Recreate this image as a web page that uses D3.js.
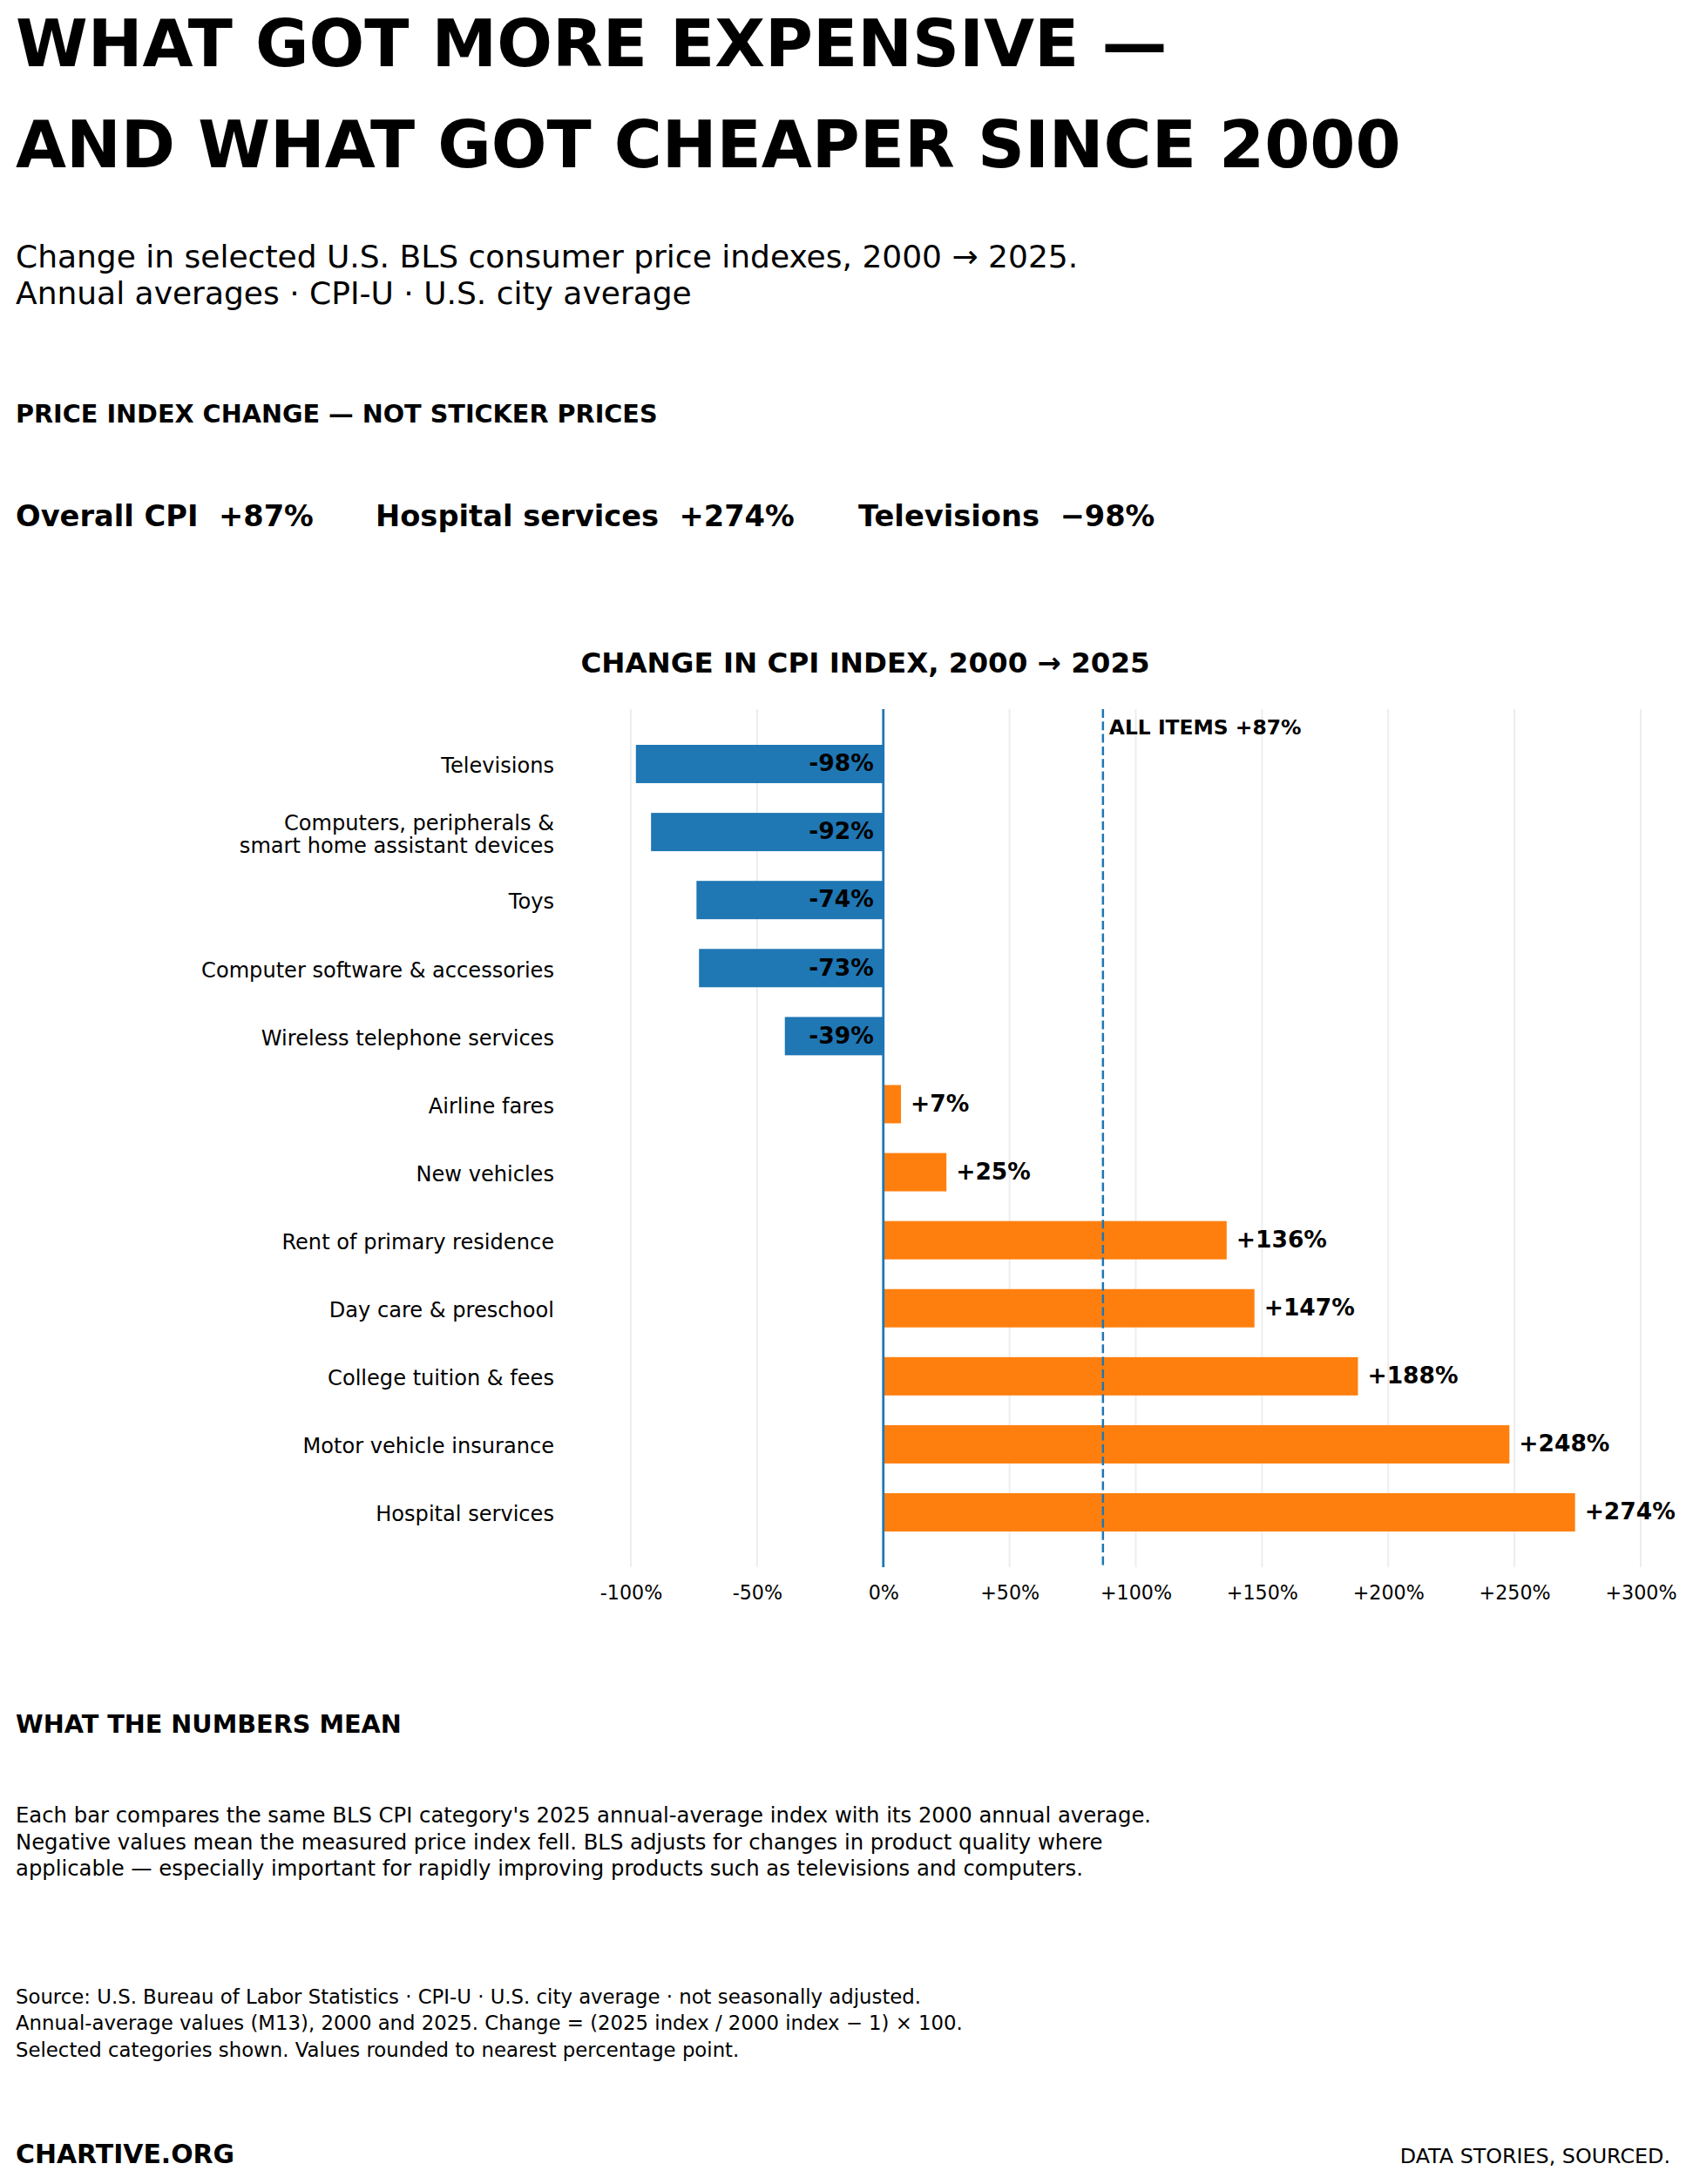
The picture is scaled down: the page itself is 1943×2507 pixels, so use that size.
<!DOCTYPE html>
<html>
<head>
<meta charset="utf-8">
<script src="https://cdn.jsdelivr.net/npm/d3@7"></script>
<style>
  html, body { margin: 0; padding: 0; background: #ffffff; }
  svg { display: block; font-family: "DejaVu Sans", sans-serif; }
  text { white-space: pre; }
</style>
</head>
<body>
<svg id="chart" width="1943" height="2507"></svg>
<script>
// ---------- data ----------
const categories = [
  "Televisions",
  "Computers, peripherals &\nsmart home assistant devices",
  "Toys",
  "Computer software & accessories",
  "Wireless telephone services",
  "Airline fares",
  "New vehicles",
  "Rent of primary residence",
  "Day care & preschool",
  "College tuition & fees",
  "Motor vehicle insurance",
  "Hospital services"
];
const changes = [-98, -92, -74, -73, -39, 7, 25, 136, 147, 188, 248, 274];
const xTicks = [-100, -50, 0, 50, 100, 150, 200, 250, 300];
const xTickLabels = ["-100%", "-50%", "0%", "+50%", "+100%", "+150%", "+200%", "+250%", "+300%"];
const allItemsChange = 87;
const allItemsLabel = "ALL ITEMS +87%";
const highlightLabels = ["Overall CPI", "Hospital services", "Televisions"];
const highlightValues = ["+87%", "+274%", "\u221298%"];
const titleLines = ["WHAT GOT MORE EXPENSIVE \u2014", "AND WHAT GOT CHEAPER SINCE 2000"];
const subtitleLines = [
  "Change in selected U.S. BLS consumer price indexes, 2000 \u2192 2025.",
  "Annual averages \u00b7 CPI-U \u00b7 U.S. city average"
];
const kicker = "PRICE INDEX CHANGE \u2014 NOT STICKER PRICES";
const chartTitle = "CHANGE IN CPI INDEX, 2000 \u2192 2025";
const notesHeading = "WHAT THE NUMBERS MEAN";
const notesLines = [
  "Each bar compares the same BLS CPI category's 2025 annual-average index with its 2000 annual average.",
  "Negative values mean the measured price index fell. BLS adjusts for changes in product quality where",
  "applicable \u2014 especially important for rapidly improving products such as televisions and computers."
];
const sourceLines = [
  "Source: U.S. Bureau of Labor Statistics \u00b7 CPI-U \u00b7 U.S. city average \u00b7 not seasonally adjusted.",
  "Annual-average values (M13), 2000 and 2025. Change = (2025 index / 2000 index \u2212 1) \u00d7 100.",
  "Selected categories shown. Values rounded to nearest percentage point."
];
const footerLeft = "CHARTIVE.ORG";
const footerRight = "DATA STORIES, SOURCED.";

// ---------- styles ----------
const BLUE = "#1f77b4", ORANGE = "#ff7f0e", INK = "#000000", GRID = "#ededed";
const svg = d3.select("#chart");
const LEFT = 18;

// ---------- header ----------
svg.selectAll("text.title").data(titleLines).join("text")
  .attr("class", "title")
  .attr("x", LEFT).attr("y", (d, i) => 75.5 + i * 116)
  .attr("font-size", 75).attr("font-weight", "bold").attr("fill", INK)
  .text(d => d);

svg.selectAll("text.subtitle").data(subtitleLines).join("text")
  .attr("class", "subtitle")
  .attr("x", LEFT).attr("y", (d, i) => 306.7 + i * 42.6)
  .attr("font-size", 36).attr("fill", INK)
  .text(d => d);

svg.append("text").attr("x", LEFT).attr("y", 485)
  .attr("font-size", 28.7).attr("font-weight", "bold").attr("fill", INK)
  .text(kicker);

const hlX = [18, 431, 985];
svg.selectAll("text.hl").data(highlightLabels).join("text")
  .attr("class", "hl")
  .attr("x", (d, i) => hlX[i]).attr("y", 604)
  .attr("font-size", 33.7).attr("font-weight", "bold").attr("fill", INK)
  .text((d, i) => d + "  " + highlightValues[i]);

// ---------- chart ----------
const x = d3.scaleLinear().domain([-100, 300]).range([724, 1883]);
const y = d3.scaleBand().domain(categories).range([814, 1799])
  .paddingInner(0.437).paddingOuter(0.525);
const plotTop = 814, plotBottom = 1799;

svg.append("text")
  .attr("x", 993).attr("y", 772).attr("text-anchor", "middle")
  .attr("font-size", 32.5).attr("font-weight", "bold").attr("fill", INK)
  .text(chartTitle);

// gridlines
svg.append("g").selectAll("line").data(xTicks.filter(t => t !== 0)).join("line")
  .attr("x1", d => x(d)).attr("x2", d => x(d))
  .attr("y1", plotTop).attr("y2", plotBottom)
  .attr("stroke", GRID).attr("stroke-width", 2);

// x axis labels via d3 axis
const xAxis = d3.axisBottom(x).tickValues(xTicks)
  .tickFormat((d, i) => xTickLabels[i]).tickSize(0).tickPadding(0);
const gx = svg.append("g").attr("transform", `translate(0,${plotBottom})`).call(xAxis);
gx.select(".domain").remove();
gx.selectAll("text")
  .attr("font-family", "DejaVu Sans").attr("font-size", 22.2).attr("fill", INK)
  .attr("dy", null).attr("y", 37);

// bars
const data = categories.map((c, i) => ({ cat: c, v: changes[i] }));
svg.append("g").selectAll("rect").data(data).join("rect")
  .attr("x", d => Math.min(x(0), x(d.v)))
  .attr("width", d => Math.abs(x(d.v) - x(0)))
  .attr("y", d => y(d.cat))
  .attr("height", y.bandwidth())
  .attr("fill", d => d.v < 0 ? BLUE : ORANGE);

// zero line
svg.append("line")
  .attr("x1", x(0)).attr("x2", x(0)).attr("y1", plotTop).attr("y2", plotBottom)
  .attr("stroke", BLUE).attr("stroke-width", 2.8);

// all items reference line
svg.append("line")
  .attr("x1", x(allItemsChange)).attr("x2", x(allItemsChange))
  .attr("y1", plotTop).attr("y2", plotBottom)
  .attr("stroke", BLUE).attr("stroke-width", 2.5).attr("stroke-dasharray", "10,4.3");
svg.append("text")
  .attr("x", x(allItemsChange) + 7).attr("y", 843)
  .attr("font-size", 23.4).attr("font-weight", "bold").attr("fill", INK)
  .text(allItemsLabel);

// value labels
svg.append("g").selectAll("text").data(data).join("text")
  .attr("x", d => d.v < 0 ? x(0) - 11 : x(d.v) + 11)
  .attr("y", d => y(d.cat) + y.bandwidth() / 2 + 8.3)
  .attr("text-anchor", d => d.v < 0 ? "end" : "start")
  .attr("font-size", 26.5).attr("font-weight", "bold").attr("fill", INK)
  .text(d => (d.v > 0 ? "+" : "") + d.v + "%");

// category labels
const catG = svg.append("g").selectAll("text").data(categories).join("text")
  .attr("text-anchor", "end")
  .attr("font-size", 24.1).attr("fill", INK);
catG.each(function(c) {
  const lines = c.split("\n");
  const cy = y(c) + y.bandwidth() / 2;
  const first = cy + 10.3 - (lines.length - 1) * 26 / 2 + (lines.length > 1 ? 0.5 : 0);
  d3.select(this).selectAll("tspan").data(lines).join("tspan")
    .attr("x", 636).attr("y", (d, i) => first + i * 26).text(d => d);
});

// ---------- notes ----------
svg.append("text").attr("x", LEFT).attr("y", 1989)
  .attr("font-size", 28.7).attr("font-weight", "bold").attr("fill", INK)
  .text(notesHeading);

svg.selectAll("text.note").data(notesLines).join("text")
  .attr("class", "note")
  .attr("x", LEFT).attr("y", (d, i) => 2092 + i * 30.7)
  .attr("font-size", 24.3).attr("fill", INK)
  .text(d => d);

svg.selectAll("text.source").data(sourceLines).join("text")
  .attr("class", "source")
  .attr("x", LEFT).attr("y", (d, i) => 2300 + i * 30.3)
  .attr("font-size", 22.8).attr("fill", INK)
  .text(d => d);

svg.append("text").attr("x", LEFT).attr("y", 2482.5)
  .attr("font-size", 29.9).attr("font-weight", "bold").attr("fill", INK)
  .text(footerLeft);
svg.append("text").attr("x", 1917).attr("y", 2482.5).attr("text-anchor", "end")
  .attr("font-size", 23.8).attr("fill", INK)
  .text(footerRight);
</script>
</body>
</html>
